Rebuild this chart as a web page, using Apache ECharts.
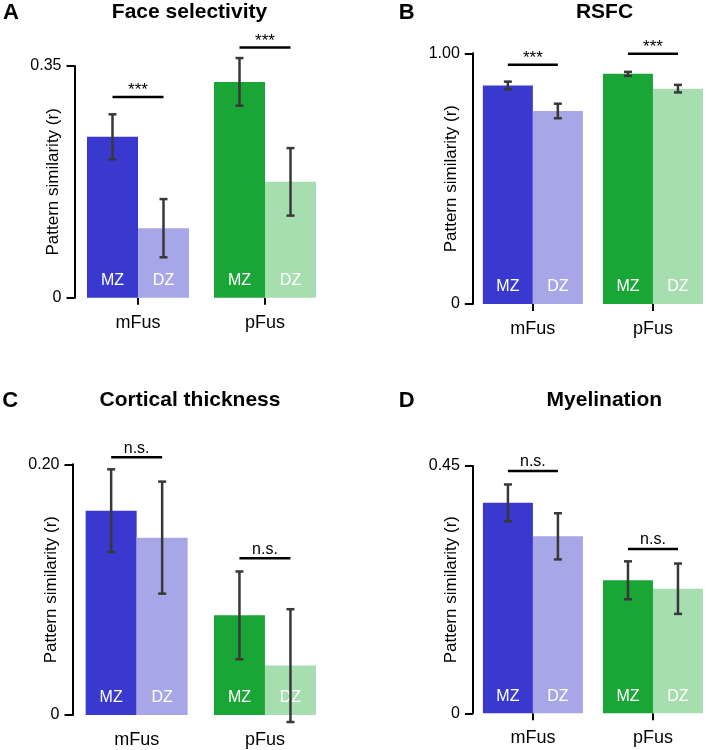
<!DOCTYPE html>
<html>
<head>
<meta charset="utf-8">
<script src="https://cdn.jsdelivr.net/npm/echarts@6/dist/echarts.min.js"></script>
<style>html,body{margin:0;padding:0;background:#fff}#c{width:713px;height:750px}</style>
</head>
<body>
<div id="c"></div>
<script>
// ---------- DATA ----------
const categories = ['mFus', 'pFus'];
const groups = ['MZ', 'DZ'];
const panelTitles = ['Face selectivity', 'RSFC', 'Cortical thickness', 'Myelination'];
const panelLetters = ['A', 'B', 'C', 'D'];
const yAxisName = 'Pattern similarity (r)';
const yMaxValues = [0.35, 1.00, 0.20, 0.45];
const yTickLabels = [['0', '0.35'], ['0', '1.00'], ['0', '0.20'], ['0', '0.45']];

const faceMZ = [0.243, 0.326];   const faceMZErr = [0.034, 0.036];
const faceDZ = [0.105, 0.175];   const faceDZErr = [0.044, 0.051];
const rsfcMZ = [0.872, 0.918];   const rsfcMZErr = [0.015, 0.008];
const rsfcDZ = [0.770, 0.859];   const rsfcDZErr = [0.029, 0.015];
const ctMZ = [0.163, 0.0795];    const ctMZErr = [0.033, 0.035];
const ctDZ = [0.1415, 0.0394];   const ctDZErr = [0.0447, 0.045];
const myMZ = [0.383, 0.242];     const myMZErr = [0.0334, 0.0345];
const myDZ = [0.322, 0.2267];    const myDZErr = [0.042, 0.0458];

const faceSig = ['***', '***'];  const faceSigY = [0.303, 0.378];
const rsfcSig = ['***', '***'];  const rsfcSigY = [0.9545, 0.998];
const ctSig = ['n.s.', 'n.s.'];  const ctSigY = [0.2056, 0.125];
const mySig = ['n.s.', 'n.s.'];  const mySigY = [0.441, 0.299];

// ---------- LAYOUT / STYLE ----------
const FONT = '"Liberation Sans", Arial, Helvetica, sans-serif';
const colMZ = ['#3A39CF', '#1AA537'];
const colDZ = ['#A7A7E7', '#A6DEB0'];
const panels = [
  {mz: faceMZ, mzE: faceMZErr, dz: faceDZ, dzE: faceDZErr, sig: faceSig, sigY: faceSigY,
   grid: {left: 74.5, top: 66, width: 254, height: 231.7}, bw: 51, ticks: true,
   title: [189.5, 1.5], letter: [11, 2]},
  {mz: rsfcMZ, mzE: rsfcMZErr, dz: rsfcDZ, dzE: rsfcDZErr, sig: rsfcSig, sigY: rsfcSigY,
   grid: {left: 472.8, top: 53.3, width: 250, height: 250.7}, bw: 50, ticks: true,
   title: [604.5, 1.5], letter: [406.7, 2]},
  {mz: ctMZ, mzE: ctMZErr, dz: ctDZ, dzE: ctDZErr, sig: ctSig, sigY: ctSigY,
   grid: {left: 72.5, top: 464.3, width: 256.6, height: 250.7}, bw: 51, ticks: false,
   title: [190, 390], letter: [10.3, 389.5]},
  {mz: myMZ, mzE: myMZErr, dz: myDZ, dzE: myDZErr, sig: mySig, sigY: mySigY,
   grid: {left: 472.9, top: 466, width: 249.4, height: 247.3}, bw: 50, ticks: true,
   title: [604.3, 390], letter: [406.7, 389.5]}
];

const chart = echarts.init(document.getElementById('c'), null, {renderer: 'canvas'});
const option = {
  backgroundColor: '#fff',
  animation: false,
  textStyle: {fontFamily: FONT},
  title: [], grid: [], xAxis: [], yAxis: [], series: []
};

panels.forEach((p, i) => {
  option.title.push({
    text: panelTitles[i], left: p.title[0], top: p.title[1], textAlign: 'center', padding: 0,
    textStyle: {fontFamily: FONT, fontSize: 21, fontWeight: 'bold', color: '#000'}
  });
  option.title.push({
    text: panelLetters[i], left: p.letter[0], top: p.letter[1], textAlign: 'center', padding: 0,
    textStyle: {fontFamily: FONT, fontSize: 22, fontWeight: 'bold', color: '#000'}
  });
  option.grid.push(Object.assign({containLabel: false}, p.grid));
  option.xAxis.push({
    type: 'category', gridIndex: i, data: categories,
    axisLine: {show: false},
    axisTick: {show: p.ticks, alignWithLabel: true, length: 7, lineStyle: {color: '#000', width: 2}},
    axisLabel: {color: '#000', fontSize: 18, margin: 16, fontFamily: FONT},
    splitLine: {show: false}
  });
  const ticks = yTickLabels[i];
  option.yAxis.push({
    type: 'value', gridIndex: i, min: 0, max: yMaxValues[i], interval: yMaxValues[i],
    name: yAxisName, nameLocation: 'middle', nameGap: 13, nameMoveOverlap: false,
    nameTextStyle: {color: '#000', fontSize: 17, fontFamily: FONT},
    axisLine: {show: true, lineStyle: {color: '#000', width: 2}},
    axisTick: {show: true, length: 8, lineStyle: {color: '#000', width: 2}},
    axisLabel: {color: '#000', fontSize: 16, margin: 13, fontFamily: FONT,
      formatter: v => (v === 0 ? ticks[0] : ticks[1])},
    splitLine: {show: false}
  });
  const barLabel = {show: true, position: 'insideBottom', distance: 9, color: '#fff',
    fontSize: 16, fontFamily: FONT, formatter: '{a}'};
  option.series.push({
    type: 'bar', name: groups[0], xAxisIndex: i, yAxisIndex: i, barWidth: p.bw, barGap: '0%',
    data: p.mz.map((v, k) => ({value: v, itemStyle: {color: colMZ[k]}})),
    label: barLabel, silent: true
  });
  option.series.push({
    type: 'bar', name: groups[1], xAxisIndex: i, yAxisIndex: i, barWidth: p.bw, barGap: '0%',
    data: p.dz.map((v, k) => ({value: v, itemStyle: {color: colDZ[k]}})),
    label: barLabel, silent: true
  });
  const errData = [];
  p.mz.forEach((v, k) => errData.push([k, v, p.mzE[k], 0]));
  p.dz.forEach((v, k) => errData.push([k, v, p.dzE[k], 1]));
  const bw = p.bw;
  option.series.push({
    type: 'custom', xAxisIndex: i, yAxisIndex: i, data: errData, z: 5, silent: true,
    encode: {x: 0, y: 1},
    renderItem: (params, api) => {
      const cat = api.value(0), val = api.value(1), err = api.value(2), g = api.value(3);
      const c = api.coord([cat, val]);
      const x = c[0] + (g === 0 ? -bw / 2 : bw / 2);
      const yT = api.coord([cat, val + err])[1];
      const yB = api.coord([cat, val - err])[1];
      const st = {stroke: '#383838', lineWidth: 2.5};
      return {type: 'group', children: [
        {type: 'line', shape: {x1: x, y1: yT, x2: x, y2: yB}, style: st},
        {type: 'line', shape: {x1: x - 4, y1: yT, x2: x + 4, y2: yT}, style: st},
        {type: 'line', shape: {x1: x - 4, y1: yB, x2: x + 4, y2: yB}, style: st}
      ]};
    }
  });
  const sigLabels = p.sig;
  option.series.push({
    type: 'custom', xAxisIndex: i, yAxisIndex: i, z: 5, silent: true,
    data: p.sigY.map((y, k) => [k, y]), encode: {x: 0, y: 1},
    renderItem: (params, api) => {
      const c = api.coord([api.value(0), api.value(1)]);
      const lbl = sigLabels[params.dataIndex];
      const isStar = lbl.indexOf('*') >= 0;
      return {type: 'group', children: [
        {type: 'line', shape: {x1: c[0] - bw / 2, y1: c[1], x2: c[0] + bw / 2, y2: c[1]},
         style: {stroke: '#000', lineWidth: 2.5}},
        {type: 'text', x: c[0], y: isStar ? c[1] + 2 : c[1] - 1,
         style: {text: lbl, fill: '#000', font: (isStar ? '17px ' : '16px ') + FONT,
                 textAlign: 'center', textVerticalAlign: 'bottom'}}
      ]};
    }
  });
});

chart.setOption(option);
</script>
</body>
</html>
